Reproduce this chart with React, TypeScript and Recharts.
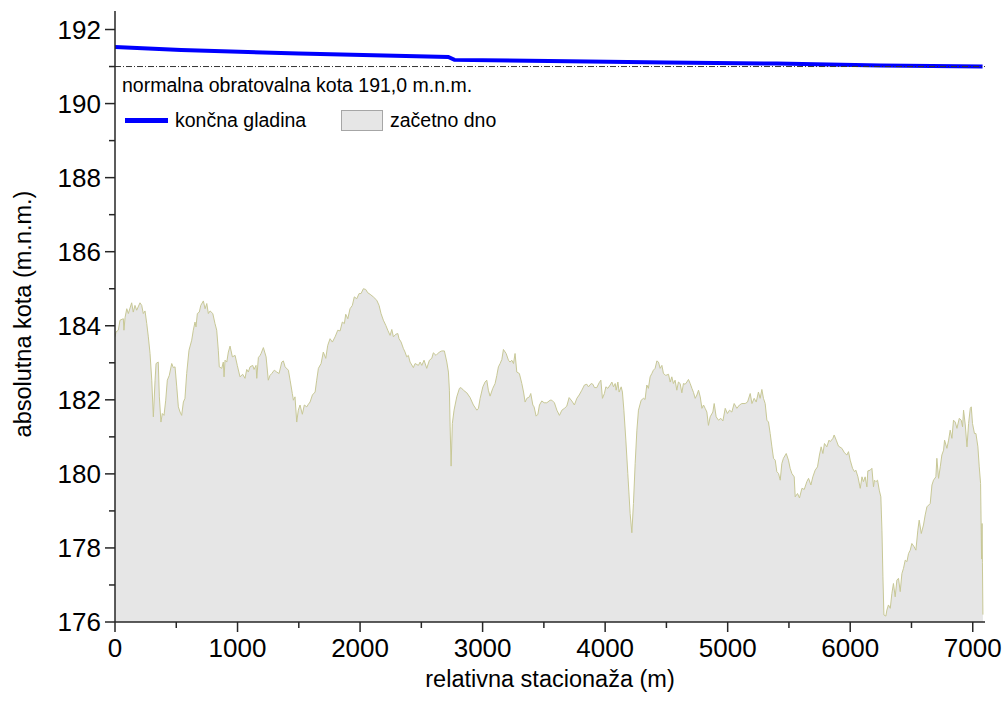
import { ComposedChart, Area, Line, XAxis, YAxis, ReferenceLine, Legend } from 'recharts'

// stationing along the reservoir (m) and initial bed level (m a.s.l.)
const stationM = [
  0, 8, 27, 41, 68, 73, 82, 96, 109, 136, 149, 163, 177, 204, 218, 231, 245, 259, 272, 286,
  300, 313, 327, 335, 353, 362, 375, 386, 400, 414, 427, 443, 463, 476, 490, 504, 517, 531, 544, 558,
  571, 585, 604, 626, 639, 653, 661, 672, 688, 700, 721, 735, 749, 762, 776, 798, 816, 830, 843, 851,
  871, 884, 890, 898, 912, 925, 939, 958, 980, 998, 1020, 1042, 1061, 1075, 1088, 1102, 1124, 1135, 1151, 1157,
  1170, 1184, 1192, 1211, 1233, 1251, 1265, 1279, 1300, 1320, 1339, 1361, 1374, 1388, 1415, 1429, 1447, 1456, 1469, 1483,
  1496, 1510, 1529, 1545, 1565, 1578, 1592, 1611, 1633, 1646, 1660, 1682, 1700, 1720, 1736, 1755, 1774, 1796, 1818, 1837,
  1855, 1872, 1883, 1900, 1918, 1937, 1953, 1973, 1992, 2008, 2027, 2046, 2063, 2082, 2108, 2136, 2155, 2171, 2190, 2210,
  2226, 2245, 2259, 2272, 2291, 2308, 2318, 2335, 2353, 2367, 2381, 2394, 2408, 2435, 2449, 2476, 2490, 2504, 2522, 2544,
  2566, 2585, 2598, 2620, 2647, 2667, 2688, 2708, 2721, 2729, 2735, 2743, 2753, 2767, 2789, 2811, 2824, 2843, 2871, 2898,
  2925, 2953, 2966, 2980, 3002, 3020, 3034, 3047, 3061, 3083, 3102, 3116, 3129, 3143, 3157, 3170, 3192, 3211, 3224, 3238,
  3252, 3265, 3279, 3300, 3320, 3334, 3347, 3361, 3382, 3393, 3410, 3420, 3437, 3451, 3464, 3483, 3502, 3524, 3551, 3565,
  3586, 3606, 3627, 3647, 3668, 3687, 3706, 3728, 3749, 3769, 3788, 3810, 3831, 3851, 3864, 3886, 3900, 3913, 3932, 3951,
  3965, 3978, 3994, 4006, 4022, 4041, 4055, 4068, 4082, 4090, 4104, 4114, 4131, 4141, 4153, 4169, 4185, 4204, 4218, 4231,
  4245, 4259, 4272, 4294, 4313, 4326, 4340, 4353, 4367, 4381, 4394, 4408, 4422, 4435, 4449, 4463, 4476, 4495, 4517, 4531,
  4544, 4557, 4571, 4585, 4598, 4612, 4626, 4639, 4653, 4667, 4680, 4694, 4708, 4721, 4735, 4749, 4762, 4776, 4790, 4803,
  4816, 4830, 4843, 4857, 4879, 4890, 4906, 4925, 4944, 4961, 4980, 4998, 5015, 5034, 5053, 5075, 5096, 5116, 5143, 5162,
  5184, 5198, 5216, 5233, 5251, 5265, 5279, 5292, 5306, 5320, 5333, 5347, 5361, 5374, 5388, 5401, 5415, 5429, 5442, 5455,
  5478, 5496, 5510, 5524, 5543, 5551, 5570, 5586, 5606, 5625, 5646, 5660, 5679, 5695, 5714, 5733, 5749, 5763, 5777, 5790,
  5809, 5827, 5837, 5859, 5869, 5886, 5904, 5932, 5953, 5973, 5986, 6000, 6019, 6035, 6046, 6063, 6082, 6096, 6108, 6122,
  6136, 6144, 6163, 6177, 6190, 6198, 6210, 6223, 6237, 6250, 6259, 6267, 6275, 6291, 6299, 6312, 6327, 6340, 6353, 6367,
  6381, 6394, 6408, 6422, 6435, 6449, 6463, 6476, 6490, 6503, 6522, 6536, 6552, 6563, 6580, 6598, 6612, 6626, 6653, 6667,
  6680, 6699, 6707, 6721, 6735, 6748, 6762, 6770, 6789, 6803, 6816, 6830, 6843, 6857, 6871, 6890, 6906, 6917, 6925, 6939,
  6953, 6966, 6980, 6988, 6998, 7014, 7026, 7042, 7053, 7064, 7072, 7076, 7079, 7083,
]
const bedZ = [
  183.70, 183.83, 183.88, 184.15, 184.19, 183.88, 184.22, 184.46, 184.33, 184.62, 184.37, 184.55, 184.42, 184.62, 184.55, 184.33, 184.40, 184.06, 183.70, 183.25,
  182.53, 181.54, 182.53, 182.98, 183.02, 182.08, 181.40, 181.63, 181.58, 181.99, 182.53, 182.66, 182.98, 182.87, 182.89, 182.35, 181.81, 181.67, 181.58, 181.94,
  182.04, 182.71, 183.34, 183.61, 183.88, 184.10, 183.97, 184.33, 184.37, 184.55, 184.67, 184.46, 184.60, 184.33, 184.40, 184.33, 184.06, 183.88, 183.34, 182.89,
  182.85, 183.02, 182.62, 183.07, 183.02, 183.29, 183.45, 183.16, 183.20, 182.93, 182.62, 182.69, 182.58, 182.82, 182.75, 182.89, 182.93, 182.82, 182.93, 182.58,
  183.14, 183.20, 183.25, 183.41, 183.16, 182.53, 182.66, 182.71, 182.80, 182.75, 182.71, 183.02, 183.05, 182.89, 182.80, 182.53, 182.17, 181.99, 182.08, 181.40,
  181.72, 181.86, 181.61, 181.86, 181.81, 181.88, 181.94, 182.13, 182.21, 182.53, 182.85, 182.98, 183.29, 183.12, 183.47, 183.65, 183.56, 183.70, 183.88, 183.86,
  184.10, 184.06, 184.31, 184.19, 184.46, 184.55, 184.78, 184.73, 184.87, 184.87, 185.00, 184.98, 184.89, 184.85, 184.78, 184.69, 184.55, 184.33, 184.15, 184.01,
  183.88, 183.74, 183.90, 183.70, 183.77, 183.79, 183.65, 183.56, 183.39, 183.29, 183.16, 183.20, 183.02, 182.87, 182.98, 182.93, 183.02, 182.93, 183.07, 182.85,
  183.07, 183.12, 183.27, 183.20, 183.29, 183.32, 183.32, 183.02, 182.75, 182.26, 181.27, 180.21, 181.36, 181.72, 182.08, 182.31, 182.33, 182.26, 182.19, 182.06,
  181.86, 181.72, 181.77, 182.04, 182.35, 182.48, 182.53, 182.26, 182.10, 182.31, 182.44, 182.66, 182.89, 182.98, 183.09, 183.36, 183.25, 183.07, 183.02, 183.07,
  182.98, 183.25, 182.75, 182.71, 182.44, 182.21, 181.94, 182.04, 182.08, 182.17, 181.86, 181.81, 181.56, 181.61, 181.86, 181.97, 181.92, 181.92, 181.99, 181.99,
  181.92, 181.72, 181.58, 181.72, 181.77, 181.83, 182.06, 181.97, 181.86, 182.04, 182.13, 182.26, 182.40, 182.42, 182.35, 182.44, 182.42, 182.33, 182.33, 182.46,
  182.53, 182.04, 182.17, 182.35, 182.31, 182.40, 182.48, 182.35, 182.44, 182.26, 182.48, 182.21, 182.35, 182.21, 181.72, 180.91, 180.01, 178.93, 178.41, 179.20,
  180.28, 181.18, 181.72, 181.99, 182.04, 182.01, 182.40, 182.31, 182.62, 182.71, 182.80, 182.85, 183.05, 183.02, 182.85, 182.93, 182.71, 182.66, 182.69, 182.48,
  182.62, 182.44, 182.53, 182.26, 182.48, 182.44, 182.19, 182.44, 182.42, 182.48, 182.55, 182.44, 182.31, 182.20, 182.04, 182.13, 182.26, 182.08, 181.77, 181.86,
  181.77, 181.67, 181.31, 181.54, 181.67, 181.90, 181.54, 181.45, 181.50, 181.43, 181.77, 181.63, 181.72, 181.67, 181.90, 181.77, 181.86, 181.90, 181.90, 181.94,
  182.17, 181.90, 182.04, 181.94, 182.21, 182.04, 182.28, 182.04, 181.90, 181.45, 181.40, 181.09, 180.73, 180.42, 180.37, 180.06, 180.01, 179.83, 180.28, 180.42,
  180.55, 180.37, 180.15, 180.01, 179.92, 179.38, 179.47, 179.35, 179.61, 179.58, 179.79, 179.88, 179.70, 179.92, 180.10, 180.19, 180.51, 180.73, 180.55, 180.82,
  180.73, 180.91, 180.87, 180.96, 181.05, 180.91, 180.75, 180.69, 180.57, 180.51, 180.60, 180.37, 180.15, 180.06, 180.10, 179.92, 179.61, 179.92, 179.79, 179.92,
  179.65, 180.08, 180.10, 180.15, 179.65, 179.83, 179.79, 179.83, 179.56, 179.38, 178.48, 177.22, 176.19, 176.16, 176.32, 176.46, 176.37, 176.77, 177.04, 176.68,
  177.13, 177.18, 176.82, 177.31, 177.45, 177.67, 177.63, 177.85, 177.94, 178.12, 178.03, 177.94, 178.48, 178.75, 178.39, 178.62, 178.89, 179.11, 179.20, 179.70,
  179.83, 179.92, 180.42, 179.88, 180.19, 180.51, 180.64, 180.91, 180.69, 180.91, 181.18, 180.96, 181.45, 181.40, 181.23, 181.50, 181.45, 181.27, 181.72, 181.32,
  180.73, 181.36, 181.77, 181.81, 181.36, 181.09, 181.09, 180.73, 180.19, 179.74, 177.70, 178.66, 177.60, 176.20,
]

// final water surface
const levelM = [0, 540, 1500, 2720, 2770, 3540, 4500, 5400, 6250, 7080]
const levelZ = [191.53, 191.45, 191.35, 191.26, 191.18, 191.15, 191.11, 191.08, 191.03, 191.0]

const normalLevel = 191.0
const xTicks = [0, 500, 1000, 1500, 2000, 2500, 3000, 3500, 4000, 4500, 5000, 5500, 6000, 6500, 7000]
const yTicks = [176, 177, 178, 179, 180, 181, 182, 183, 184, 185, 186, 187, 188, 189, 190, 191, 192]

const FONT = '"Liberation Sans", Arial, Helvetica, sans-serif'
const AXIS = '#262626'

const bed = stationM.map((x, i) => ({ x, z: bedZ[i] }))
const level = levelM.map((x, i) => ({ x, z: levelZ[i] }))

function XTick(props: any) {
  const { x, y, payload } = props
  const major = payload.value % 1000 === 0
  return (
    <g>
      <line x1={x} x2={x} y1={y} y2={y + (major ? 10 : 6)} stroke={AXIS} strokeWidth={1.5} />
      {major && (
        <text x={x} y={y + 17} dy="0.71em" textAnchor="middle" fontSize={26} fontFamily={FONT} fill="#000">
          {payload.value}
        </text>
      )}
    </g>
  )
}

function YTick(props: any) {
  const { x, y, payload } = props
  const major = payload.value % 2 === 0
  return (
    <g>
      <line x1={x} x2={x - (major ? 10 : 6)} y1={y} y2={y} stroke={AXIS} strokeWidth={1.5} />
      {major && (
        <text x={x - 14} y={y} dy="0.355em" textAnchor="end" fontSize={26} fontFamily={FONT} fill="#000">
          {payload.value}
        </text>
      )}
    </g>
  )
}

function LegendBox() {
  return (
    <div style={{ position: 'relative', width: 400, height: 24, fontFamily: FONT, fontSize: 19.5, color: '#000' }}>
      <div style={{ position: 'absolute', left: 1, top: 10, width: 43, height: 5, background: '#0000ff' }} />
      <span style={{ position: 'absolute', left: 51, top: 0, lineHeight: '24px', whiteSpace: 'nowrap' }}>končna gladina</span>
      <div style={{ position: 'absolute', left: 217, top: 1.5, width: 42, height: 21, boxSizing: 'border-box', background: '#e6e6e6', border: '1px solid #a6a6a6' }} />
      <span style={{ position: 'absolute', left: 266, top: 0, lineHeight: '24px', whiteSpace: 'nowrap' }}>začetno dno</span>
    </div>
  )
}

export default function App() {
  return (
    <div style={{ position: 'absolute', left: 0, top: 0, width: 1003, height: 709, background: '#fff', fontFamily: FONT }}>
      <ComposedChart width={1003} height={709} margin={{ top: 11, right: 18, bottom: 0, left: 0 }}>
        <XAxis
          type="number" dataKey="x" domain={[0, 7100]} ticks={xTicks} interval={0} allowDataOverflow
          height={87} tickSize={0} tickMargin={0} tick={<XTick />}
          axisLine={{ stroke: AXIS, strokeWidth: 1.5 }}
          label={() => (
            <text x={550} y={687} textAnchor="middle" fontSize={23.5} fontFamily={FONT} fill="#000">relativna stacionaža (m)</text>
          )}
        />
        <YAxis
          type="number" dataKey="z" domain={[176, 192.5]} ticks={yTicks} interval={0} allowDataOverflow
          width={115} tickSize={0} tickMargin={0} tick={<YTick />}
          axisLine={{ stroke: AXIS, strokeWidth: 1.5 }}
          label={() => (
            <text transform="translate(23,314) rotate(-90)" textAnchor="middle" dominantBaseline="central" fontSize={23.5} fontFamily={FONT} fill="#000">
              absolutna kota (m.n.m.)
            </text>
          )}
        />
        <Legend
          layout="vertical" align="center" verticalAlign="middle"
          wrapperStyle={{ left: 124, top: 108, width: 400, height: 24 }}
          content={() => <LegendBox />}
        />
        <Area
          data={bed} dataKey="z" type="linear" baseValue={176}
          stroke="#c8c896" strokeWidth={1} fill="#e6e6e6" fillOpacity={1}
          dot={false} activeDot={false} isAnimationActive={false}
        />
        <Line
          data={level} dataKey="z" type="linear" stroke="#0000ff" strokeWidth={4}
          dot={false} activeDot={false} isAnimationActive={false}
        />
        <ReferenceLine
          y={normalLevel} stroke="#333" strokeWidth={1} strokeDasharray="6 2 1 2"
          label={(p: any) => (
            <text x={p.viewBox.x + 7} y={p.viewBox.y + 25.5} fontSize={19.5} fontFamily={FONT} fill="#000">
              normalna obratovalna kota 191,0 m.n.m.
            </text>
          )}
        />
      </ComposedChart>
    </div>
  )
}
